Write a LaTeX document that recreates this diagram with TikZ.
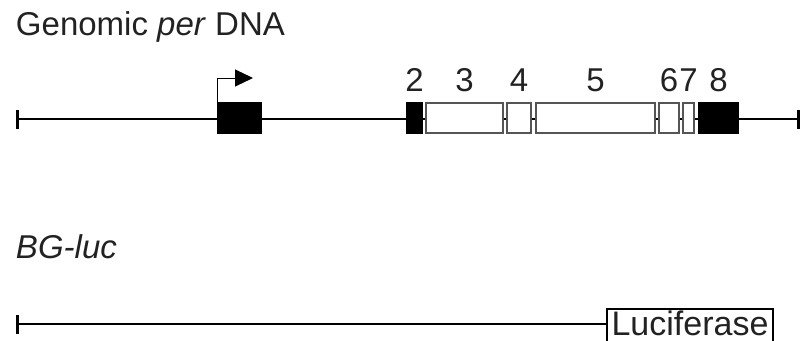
\documentclass[tikz,border=0pt]{standalone}
\usepackage{fontspec}
\setmainfont{Liberation Sans}
\usetikzlibrary{arrows.meta}

\definecolor{inkgray}{HTML}{222222}
\definecolor{edgegray}{HTML}{555555}

\begin{document}
\begin{tikzpicture}[x=1pt,y=-1pt,line width=2pt]
    \tikzstyle{big text}=[font=\fontsize{33}{40}\selectfont,text=inkgray,inner sep=0pt]
    \tikzstyle{exon}=[rectangle,draw=edgegray,line width=1.2pt,minimum height=30pt,inner sep=0pt]
    \tikzstyle{coding exon}=[exon,fill=white]
    \tikzstyle{untranslated exon}=[exon,draw=black,fill=black]
    \tikzstyle{exon number}=[big text,label distance=10pt]
    \tikzstyle{luc box}=[rectangle,draw=black,line width=2pt,big text,font=\fontsize{34}{40}\selectfont,
        text depth=5pt,minimum width=166pt,minimum height=33pt]

    \useasboundingbox (0,0) rectangle (802,340);

    % Titles of the two constructs.
    \node[big text,anchor=base west] (title-per) at (15,35) {Genomic \textit{per} DNA};
    \node[big text,anchor=base west] (title-luc) at (15,258) {\textit{BG-luc}};

    % Ends of the genomic line.
    \coordinate (per-start) at (16,119);
    \coordinate (per-end) at (800,119);
    \draw[{Bar[width=19pt,line width=3pt]}-{Bar[width=19pt,line width=3pt]}] (per-start) -- (per-end);

    % Draw the first exon and the start of transcription.
    \node[untranslated exon,minimum width=43pt] (E-1) at (239.5,118) {};
    \coordinate (tss) at (253,78);
    \draw[line width=1pt,-{Triangle[length=18pt,width=17pt]}] (E-1.north west) |- (tss);

    % Draw the numbered exons.
    \foreach \name / \x / \w / \kind in {2/414.5/15/untranslated,3/464.5/77/coding,
        4/519/24/coding,5/595.5/119/coding,6/669/20/coding,7/688.5/11/coding,
        8/718.5/39/untranslated}
        \node[\kind\space exon,minimum width=\w pt,
            label={[exon number]above:\name}] (E-\name) at (\x,118) {};

    % Draw the reporter construct.
    \coordinate (luc-start) at (16,324);
    \node[luc box] (luc) at (690,325.5) {Luciferase};
    \draw[{Bar[width=19pt,line width=3pt]}-] (luc-start) -- (luc.west |- luc-start);
\end{tikzpicture}
\end{document}
